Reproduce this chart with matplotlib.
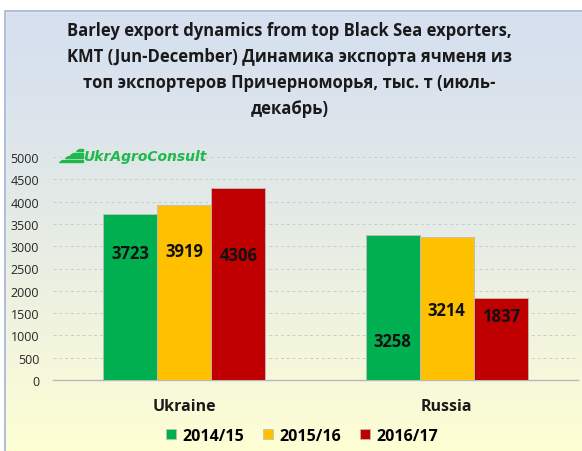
import numpy as np
import matplotlib.pyplot as plt
from matplotlib.patches import Polygon
from matplotlib.lines import Line2D

# data
countries = ["Ukraine", "Russia"]
seasons = ["2014/15", "2015/16", "2016/17"]
ukraine = [3723, 3919, 4306]
russia = [3258, 3214, 1837]
colors = ["#00b050", "#ffc000", "#c00000"]
yticks = [0, 500, 1000, 1500, 2000, 2500, 3000, 3500, 4000, 4500, 5000]

title = ("Barley export dynamics from top Black Sea exporters,\n"
         "KMT (Jun-December) Динамика экспорта ячменя из\n"
         "топ экспортеров Причерноморья, тыс. т (июль-\n"
         "декабрь)")

plt.rcParams['font.family'] = ['Open Sans', 'DejaVu Sans']

W, H = 582, 452
fig = plt.figure(figsize=(W / 100, H / 100), dpi=100)

# gradient background (blue top -> pale yellow bottom)
bg = fig.add_axes([0, 0, 1, 1], zorder=-2)
top = np.array([214, 224, 240]) / 255
bot = np.array([255, 255, 212]) / 255
t = np.linspace(0, 1, 256)[:, None] ** 1.4
grad = top * (1 - t) + bot * t
bg.imshow(grad[:, None, :], aspect='auto', extent=[0, 1, 0, 1])
bg.set_xlim(0, 1)
bg.set_ylim(0, 1)
bg.axis('off')
# white strip above frame and left of frame
bg.add_patch(plt.Rectangle((0, 1 - 12 / H), 1, 12 / H, color='white', zorder=3))
bg.add_patch(plt.Rectangle((0, 0), 5 / W, 1, color='white', zorder=3))
bg.plot([5 / W, 5 / W, 1], [0, 1 - 12 / H, 1 - 12 / H], color='#9fb3cf', lw=1.2, zorder=4)

fig.text(0.497, 1 - 70 / H, title, ha='center', va='center', fontsize=12,
         fontweight='bold', linespacing=1.58, color='#1a1a1a')

# logo
logo_green = "#1fb84a"
for i in range(4):
    y0 = 163 - i * 3.6
    x0 = 59 + i * 5.5
    x1 = 83
    pts = [(x0, y0), (x1, y0), (x1, y0 - 2.2), (x0 + 3, y0 - 2.2)]
    fig.patches.append(Polygon([(x / W, 1 - y / H) for x, y in pts],
                               closed=True, transform=fig.transFigure,
                               color=logo_green))
fig.text(83 / W, 1 - 157 / H, "UkrAgroConsult", fontsize=10, fontweight='bold',
         style='italic', color=logo_green, va='center', ha='left',
         family=['DejaVu Sans'])

# main axes
ax = fig.add_axes([53 / W, (H - 381) / H, 525 / W, 223 / H])
ax.patch.set_alpha(0)
x = np.arange(len(countries))
w = 0.206
for i, s in enumerate(seasons):
    vals = [ukraine[i], russia[i]]
    ax.bar(x + (i - 1) * w, vals, w, color=colors[i], edgecolor='#bdbdbd',
           linewidth=0.6, label=s, zorder=3)

# value labels (positions)
label_y = [[2850, 2890, 2800], [880, 1560, 1440]]
for c, vals in enumerate([ukraine, russia]):
    for i, v in enumerate(vals):
        ax.text(x[c] + (i - 1) * w, label_y[c][i], str(v), ha='center',
                va='center', fontsize=12, fontweight='bold', color='#111111',
                zorder=4)

ax.set_xlim(-0.5, 1.5)
ax.set_ylim(0, 5000)
ax.set_yticks(yticks)
ax.set_yticklabels([str(v) for v in yticks], fontsize=9, color='#262626')
ax.yaxis.grid(True, linestyle=(0, (3, 3)), color='#c8ccd2', lw=0.7, zorder=0)
ax.tick_params(axis='y', length=0, pad=10)
ax.tick_params(axis='x', length=0, pad=13)
ax.set_xticks(x)
ax.set_xticklabels(countries, fontsize=11.5, fontweight='bold', color='#1a1a1a')
for side in ['top', 'right', 'left']:
    ax.spines[side].set_visible(False)
ax.spines['bottom'].set_color('#b8b8b8')
ax.spines['bottom'].set_linewidth(1.0)

handles = [Line2D([], [], marker='s', linestyle='', markersize=7,
                  markerfacecolor=c, markeredgecolor='#bdbdbd', markeredgewidth=0.5)
           for c in colors]
fig.legend(handles, seasons, loc='center', bbox_to_anchor=(300 / W, 1 - 437 / H),
           ncol=3, frameon=False, handletextpad=0.1, columnspacing=0.9,
           handlelength=1.2, prop={'weight': 'bold', 'size': 11.5})

fig.savefig("out.png", dpi=100)
